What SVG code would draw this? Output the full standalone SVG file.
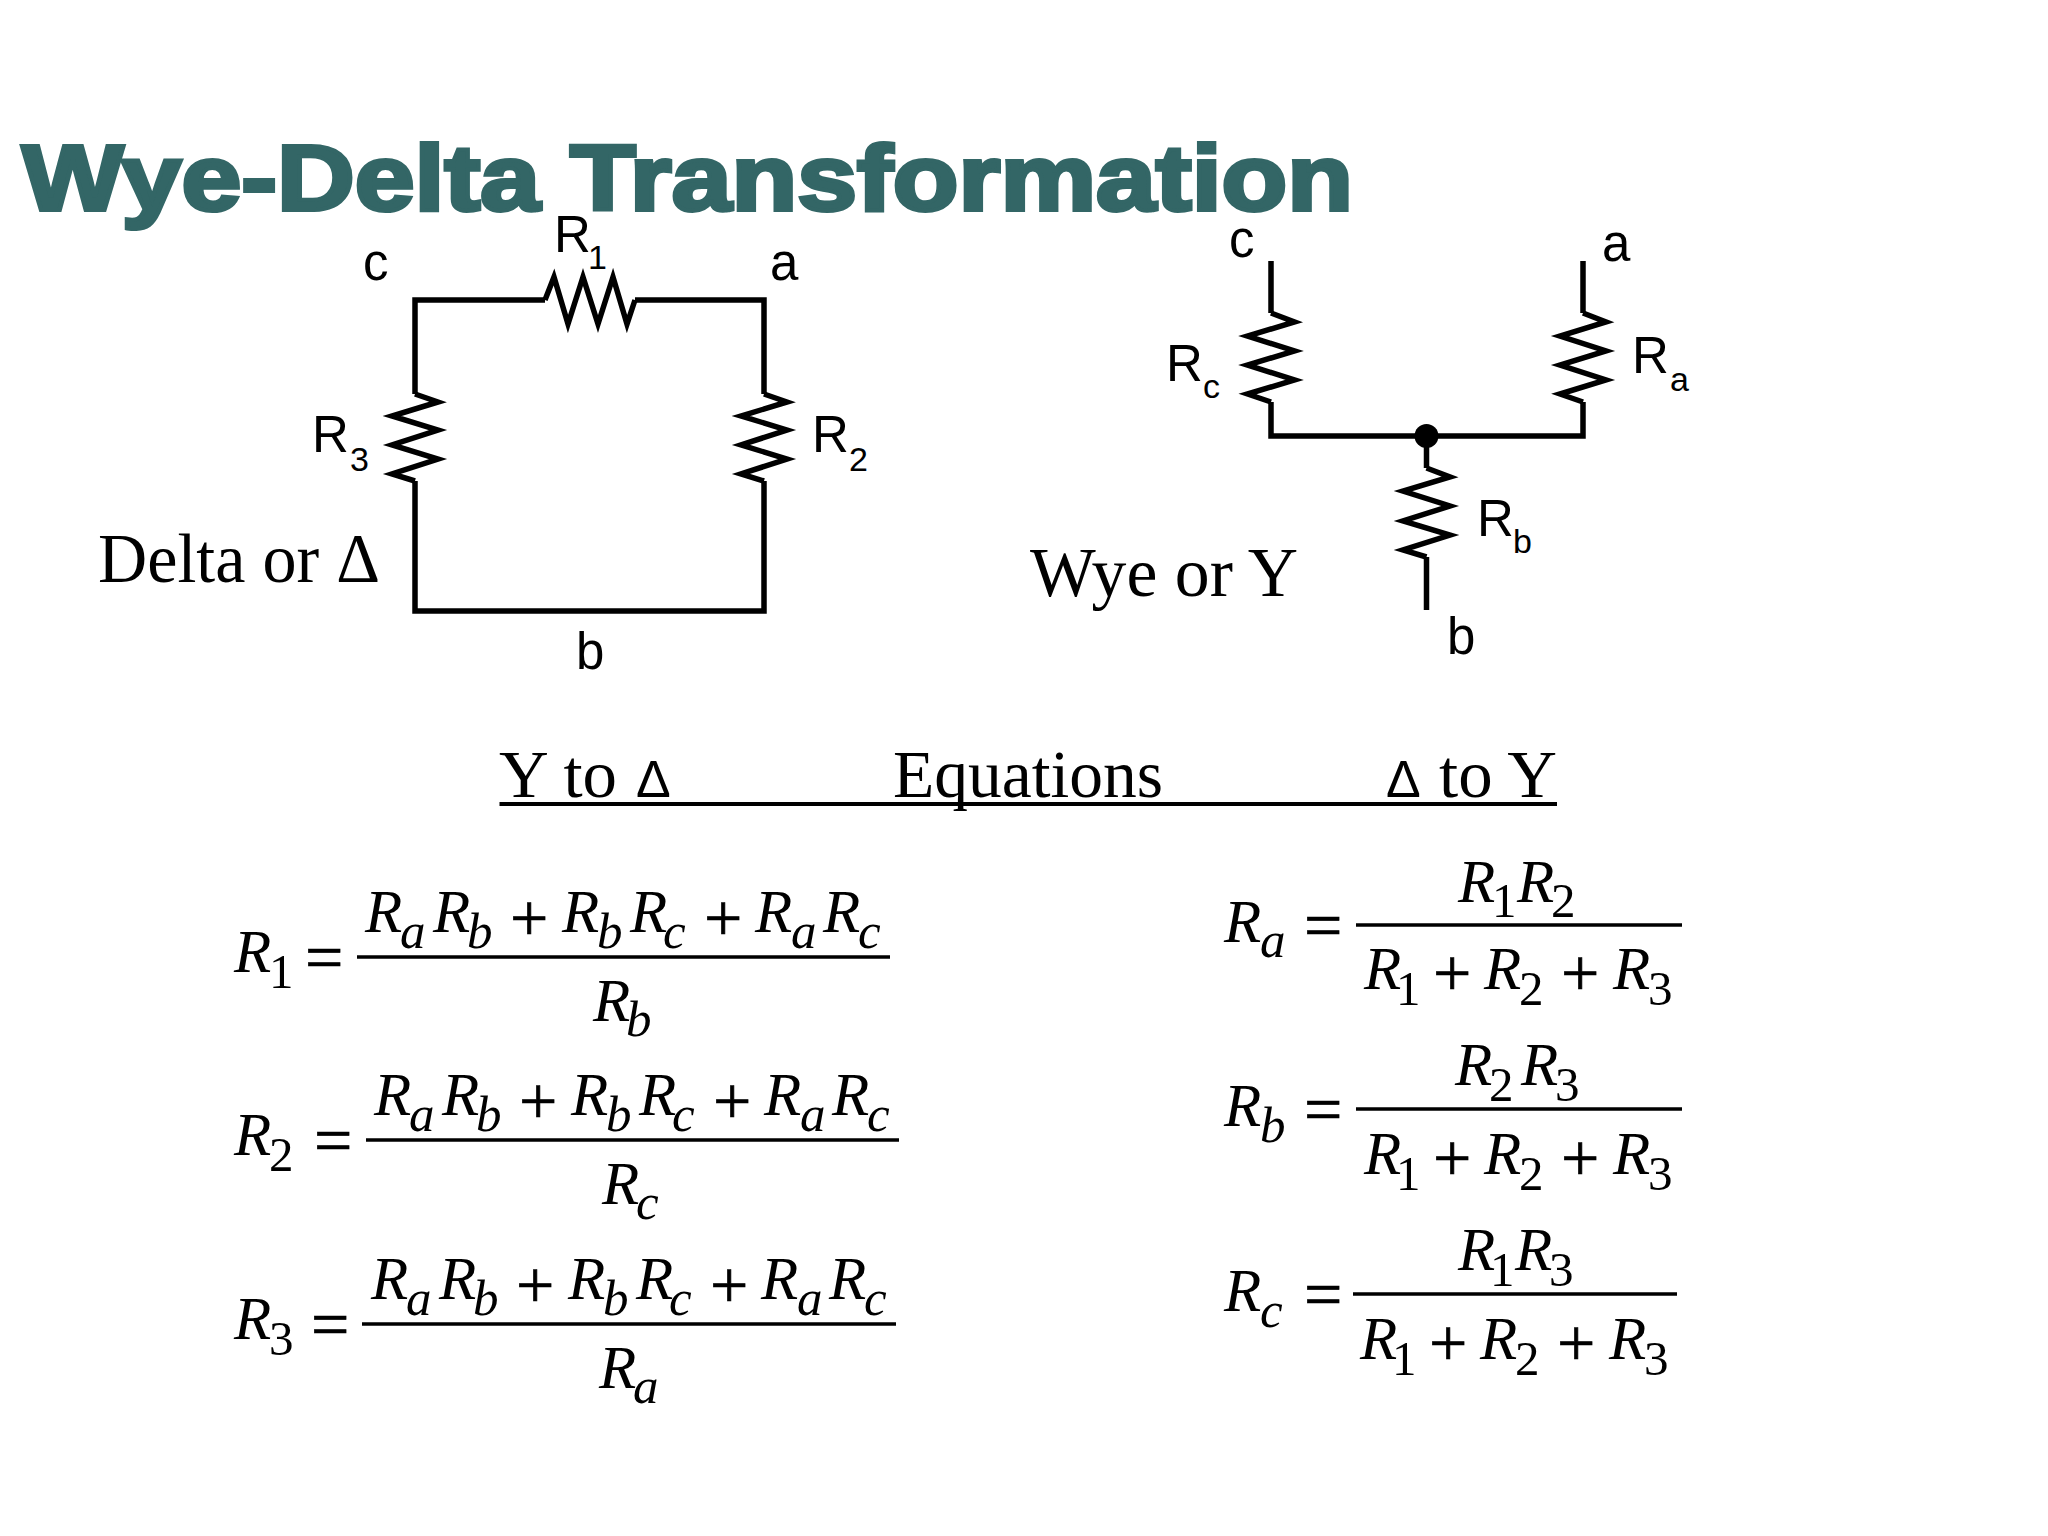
<svg xmlns="http://www.w3.org/2000/svg" width="2048" height="1536" viewBox="0 0 2048 1536">
<style>
text{fill:#000;white-space:pre}
.t{font:bold 93px "Liberation Sans",Arial,sans-serif;fill:#336666;stroke:#336666;stroke-width:4px;stroke-linejoin:miter}
.l{font:51px "Liberation Sans",Arial,sans-serif}
.u{font:34px "Liberation Sans",Arial,sans-serif}
.c{font:69px "Liberation Serif","Times New Roman",serif}
.h{font:68px "Liberation Serif","Times New Roman",serif}
.dl{font:52px "Liberation Sans",Arial,sans-serif}
.m{font:italic 61px "Liberation Serif","Times New Roman",serif}
.s{font:italic 51px "Liberation Serif","Times New Roman",serif}
.n{font:49px "Liberation Serif","Times New Roman",serif}
.o{font:68px "Liberation Serif","Times New Roman",serif;stroke:#000;stroke-width:.7px}
.w{fill:none;stroke:#000;stroke-width:5.500;stroke-linejoin:miter;stroke-linecap:butt}
.f{stroke:#000;stroke-width:3.500}
</style>
<rect width="2048" height="1536" fill="#fff"/>
<g id="title"><text class="t" x="22" y="210" textLength="1331" lengthAdjust="spacingAndGlyphs">Wye-Delta Transformation</text></g>

<g id="connectors">
<path class="w" d="M545 300H415V394M415 481V611H764V481M764 394V300H635"/>
<path class="w" d="M1271 261V313M1271 402V436H1583V402M1583 313V261M1426.500 436V468M1426.500 557V610"/>
</g>

<g id="delta">
<text class="c" x="98" y="582" textLength="282" lengthAdjust="spacingAndGlyphs">Delta or Δ</text>
<text class="l" x="363" y="280">c</text>
<text class="l" x="770" y="280">a</text>
<text class="l" x="576" y="669">b</text>
</g>
<g id="R1">
<polyline class="w" points="545,300 554,277 568,324 583,277 598,324 613,277 627,324 635,300"/>
<text class="l" x="554" y="252">R</text><text class="u" x="588" y="269">1</text>
</g>
<g id="R3">
<polyline class="w" points="415,394 438,402 392,416 438,430 392,445 438,459 392,474 415,481"/>
<text class="l" x="312" y="452">R</text><text class="u" x="350" y="471">3</text>
</g>
<g id="R2">
<polyline class="w" points="764,394 787,402 741,416 787,430 741,445 787,459 741,474 764,481"/>
<text class="l" x="812" y="452">R</text><text class="u" x="849" y="471">2</text>
</g>

<g id="wye">
<text class="c" x="1030" y="596" textLength="268" lengthAdjust="spacingAndGlyphs">Wye or Y</text>
<text class="l" x="1229" y="257">c</text>
<text class="l" x="1602" y="261">a</text>
<text class="l" x="1447" y="654">b</text>
<circle cx="1426.500" cy="436" r="12"/>
</g>
<g id="Rc">
<polyline class="w" points="1271,313 1294.500,322 1247.500,336 1294.500,351 1247.500,365 1294.500,380 1247.500,394 1271,402"/>
<text class="l" x="1166" y="381">R</text><text class="u" x="1203" y="398">c</text>
</g>
<g id="Ra">
<polyline class="w" points="1583,313 1606,322 1560,336 1606,351 1560,365 1606,380 1560,394 1583,402"/>
<text class="l" x="1632" y="373">R</text><text class="u" x="1670" y="391">a</text>
</g>
<g id="Rb">
<polyline class="w" points="1426.500,468 1450,477 1403,491 1450,506 1403,521 1450,535 1403,550 1426.500,557"/>
<text class="l" x="1477" y="536">R</text><text class="u" x="1513" y="553">b</text>
</g>

<g id="heading">
<text class="h" x="499" y="797" textLength="118" lengthAdjust="spacingAndGlyphs">Y to</text>
<text class="dl" x="636" y="797">Δ</text>
<text class="h" x="893" y="797" textLength="270" lengthAdjust="spacingAndGlyphs">Equations</text>
<text class="dl" x="1386" y="797">Δ</text>
<text class="h" x="1439" y="797" textLength="118" lengthAdjust="spacingAndGlyphs">to Y</text>
<line x1="499.500" y1="804" x2="1557" y2="804" stroke="#000" stroke-width="4"/>
</g>

<g id="eq-R1">
<text><tspan class="m" x="234" y="972">R</tspan><tspan class="n" x="269" y="988">1</tspan></text>
<text class="o" x="305" y="980">=</text>
<line class="f" x1="357" y1="957" x2="890" y2="957"/>
<text><tspan class="m" x="365" y="932">R</tspan><tspan class="s" x="400" y="948">a</tspan><tspan class="m" x="433" y="932">R</tspan><tspan class="s" x="467" y="948">b</tspan><tspan class="o" x="510" y="941">+</tspan><tspan class="m" x="562" y="932">R</tspan><tspan class="s" x="597" y="948">b</tspan><tspan class="m" x="630" y="932">R</tspan><tspan class="s" x="663" y="948">c</tspan><tspan class="o" x="704" y="941">+</tspan><tspan class="m" x="755" y="932">R</tspan><tspan class="s" x="791" y="948">a</tspan><tspan class="m" x="823" y="932">R</tspan><tspan class="s" x="858" y="948">c</tspan></text>
<text><tspan class="m" x="593" y="1021">R</tspan><tspan class="s" x="626" y="1036">b</tspan></text>
</g>
<g id="eq-R2">
<text><tspan class="m" x="234" y="1155">R</tspan><tspan class="n" x="269" y="1171">2</tspan></text>
<text class="o" x="314" y="1163">=</text>
<line class="f" x1="366" y1="1140" x2="899" y2="1140"/>
<text transform="translate(9,183)"><tspan class="m" x="365" y="932">R</tspan><tspan class="s" x="400" y="948">a</tspan><tspan class="m" x="433" y="932">R</tspan><tspan class="s" x="467" y="948">b</tspan><tspan class="o" x="510" y="941">+</tspan><tspan class="m" x="562" y="932">R</tspan><tspan class="s" x="597" y="948">b</tspan><tspan class="m" x="630" y="932">R</tspan><tspan class="s" x="663" y="948">c</tspan><tspan class="o" x="704" y="941">+</tspan><tspan class="m" x="755" y="932">R</tspan><tspan class="s" x="791" y="948">a</tspan><tspan class="m" x="823" y="932">R</tspan><tspan class="s" x="858" y="948">c</tspan></text>
<text><tspan class="m" x="602" y="1204">R</tspan><tspan class="s" x="636" y="1219">c</tspan></text>
</g>
<g id="eq-R3">
<text><tspan class="m" x="234" y="1339">R</tspan><tspan class="n" x="269" y="1355">3</tspan></text>
<text class="o" x="311" y="1347">=</text>
<line class="f" x1="362" y1="1324" x2="896" y2="1324"/>
<text transform="translate(6,367)"><tspan class="m" x="365" y="932">R</tspan><tspan class="s" x="400" y="948">a</tspan><tspan class="m" x="433" y="932">R</tspan><tspan class="s" x="467" y="948">b</tspan><tspan class="o" x="510" y="941">+</tspan><tspan class="m" x="562" y="932">R</tspan><tspan class="s" x="597" y="948">b</tspan><tspan class="m" x="630" y="932">R</tspan><tspan class="s" x="663" y="948">c</tspan><tspan class="o" x="704" y="941">+</tspan><tspan class="m" x="755" y="932">R</tspan><tspan class="s" x="791" y="948">a</tspan><tspan class="m" x="823" y="932">R</tspan><tspan class="s" x="858" y="948">c</tspan></text>
<text><tspan class="m" x="599" y="1388">R</tspan><tspan class="s" x="633" y="1403">a</tspan></text>
</g>

<g id="eq-Ra">
<text><tspan class="m" x="1224" y="942">R</tspan><tspan class="s" x="1260" y="957">a</tspan></text>
<text class="o" x="1304" y="948">=</text>
<line class="f" x1="1356" y1="925" x2="1682" y2="925"/>
<text><tspan class="m" x="1458" y="902">R</tspan><tspan class="n" x="1492" y="917">1</tspan><tspan class="m" x="1517" y="902">R</tspan><tspan class="n" x="1551" y="917">2</tspan></text>
<text><tspan class="m" x="1364" y="989">R</tspan><tspan class="n" x="1396" y="1005">1</tspan><tspan class="o" x="1433" y="996">+</tspan><tspan class="m" x="1484" y="989">R</tspan><tspan class="n" x="1519" y="1005">2</tspan><tspan class="o" x="1561" y="996">+</tspan><tspan class="m" x="1613" y="989">R</tspan><tspan class="n" x="1648" y="1005">3</tspan></text>
</g>
<g id="eq-Rb">
<text><tspan class="m" x="1224" y="1126">R</tspan><tspan class="s" x="1260" y="1142">b</tspan></text>
<text class="o" x="1304" y="1132">=</text>
<line class="f" x1="1356" y1="1109" x2="1682" y2="1109"/>
<text><tspan class="m" x="1455" y="1085">R</tspan><tspan class="n" x="1489" y="1101">2</tspan><tspan class="m" x="1521" y="1085">R</tspan><tspan class="n" x="1555" y="1101">3</tspan></text>
<text><tspan class="m" x="1364" y="1174">R</tspan><tspan class="n" x="1396" y="1190">1</tspan><tspan class="o" x="1433" y="1181">+</tspan><tspan class="m" x="1484" y="1174">R</tspan><tspan class="n" x="1519" y="1190">2</tspan><tspan class="o" x="1561" y="1181">+</tspan><tspan class="m" x="1613" y="1174">R</tspan><tspan class="n" x="1648" y="1190">3</tspan></text>
</g>
<g id="eq-Rc">
<text><tspan class="m" x="1224" y="1311">R</tspan><tspan class="s" x="1260" y="1327">c</tspan></text>
<text class="o" x="1304" y="1317">=</text>
<line class="f" x1="1353" y1="1294" x2="1677" y2="1294"/>
<text><tspan class="m" x="1458" y="1270">R</tspan><tspan class="n" x="1490" y="1286">1</tspan><tspan class="m" x="1515" y="1270">R</tspan><tspan class="n" x="1549" y="1286">3</tspan></text>
<text transform="translate(-4,185)"><tspan class="m" x="1364" y="1174">R</tspan><tspan class="n" x="1396" y="1190">1</tspan><tspan class="o" x="1433" y="1181">+</tspan><tspan class="m" x="1484" y="1174">R</tspan><tspan class="n" x="1519" y="1190">2</tspan><tspan class="o" x="1561" y="1181">+</tspan><tspan class="m" x="1613" y="1174">R</tspan><tspan class="n" x="1648" y="1190">3</tspan></text>
</g>
</svg>
